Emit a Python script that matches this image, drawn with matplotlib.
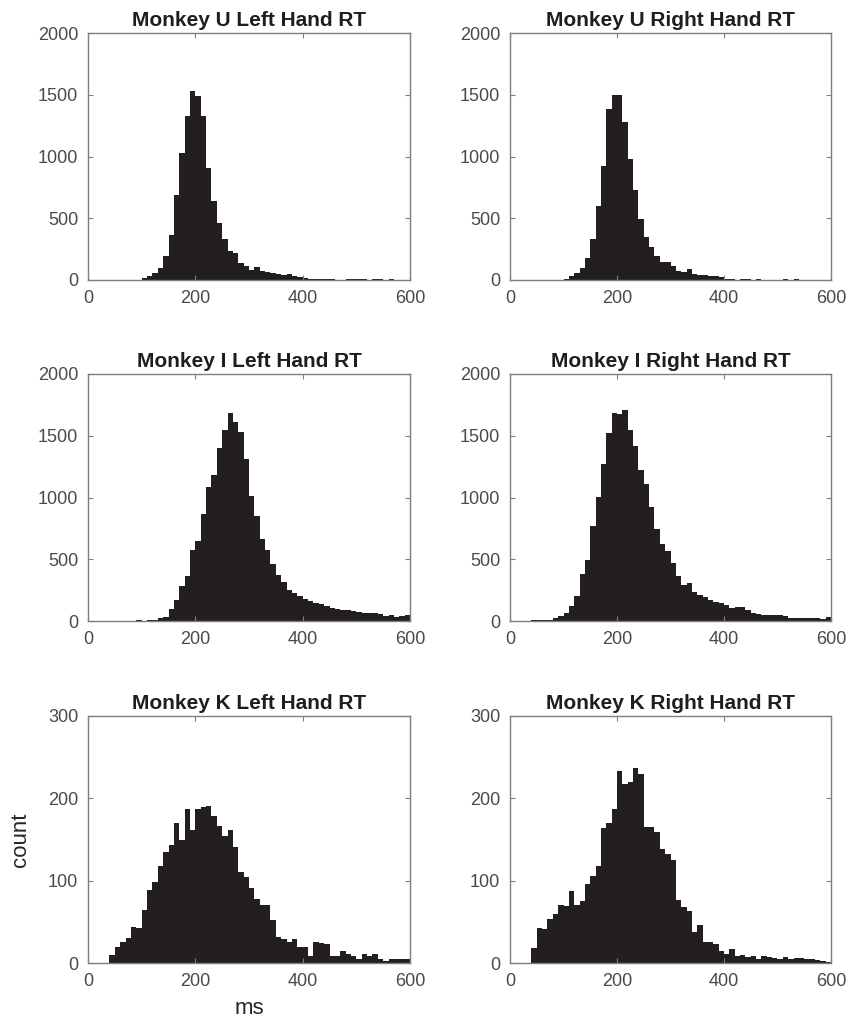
import numpy as np
import matplotlib
matplotlib.use("Agg")
import matplotlib.pyplot as plt

plt.rcParams['font.family'] = ['Liberation Sans', 'DejaVu Sans']

# 10-ms bins from 0 to 600 ms (left edges)
bin_left = list(range(0, 600, 10))

titles = ["Monkey U Left Hand RT", "Monkey U Right Hand RT",
          "Monkey I Left Hand RT", "Monkey I Right Hand RT",
          "Monkey K Left Hand RT", "Monkey K Right Hand RT"]

u_left = [0]*10 + [20, 35, 57, 97, 197, 367, 686, 1028, 1330, 1528,
                   1487, 1330, 904, 642, 459, 332, 237, 216, 140, 116,
                   83, 105, 75, 67, 54, 46, 43, 46, 35, 27,
                   15, 12, 10, 8, 6, 5, 4, 4, 5, 6,
                   6, 5, 2, 6, 6, 0, 6, 0, 0, 0]
u_right = [0]*10 + [10, 30, 54, 95, 178, 332, 602, 926, 1382, 1495,
                    1495, 1277, 980, 729, 494, 345, 270, 197, 148, 148,
                    116, 75, 67, 86, 48, 40, 38, 35, 32, 28,
                    10, 8, 3, 6, 6, 2, 5, 2, 1, 1,
                    0, 5, 3, 5, 0, 0, 0, 0, 0, 0]
i_left = [0]*9 + [8, 0, 6, 10, 22, 32, 100, 168, 287, 367, 578,
                  648, 866, 1085, 1185, 1404, 1550, 1687, 1611, 1530, 1315,
                  1015, 850, 667, 572, 465, 370, 313, 254, 227, 200,
                  178, 162, 149, 135, 119, 108, 97, 92, 87, 81,
                  70, 65, 65, 62, 54, 43, 46, 32, 38, 46]
i_right = [0]*4 + [11, 11, 11, 11, 24, 38, 65, 122, 203, 378,
                   494, 767, 1002, 1269, 1522, 1687, 1679, 1706, 1550, 1415,
                   1220, 1112, 923, 748, 621, 564, 473, 364, 294, 311,
                   235, 208, 194, 167, 154, 149, 127, 108, 113, 116,
                   87, 67, 59, 51, 46, 46, 46, 38, 27, 27,
                   27, 27, 27, 27, 19, 32]
k_left = [0]*4 + [10, 19, 25, 30, 44, 43, 64, 89, 98, 118,
                  135, 143, 170, 150, 187, 162, 187, 190, 191, 178,
                  167, 154, 162, 141, 110, 104, 91, 78, 70, 70,
                  52, 32, 29, 25, 29, 19, 19, 8, 26, 24,
                  23, 8, 8, 14, 11, 9, 5, 11, 9, 11,
                  5, 2, 5, 5, 5, 5]
k_right = [0]*4 + [18, 43, 41, 53, 60, 71, 69, 87, 71, 75,
                   96, 106, 118, 164, 170, 187, 233, 217, 220, 237,
                   229, 165, 165, 159, 138, 132, 125, 77, 68, 63,
                   38, 46, 26, 26, 23, 15, 11, 17, 9, 10,
                   7, 8, 5, 8, 7, 6, 5, 7, 5, 6,
                   6, 5, 5, 4, 3, 1]

series = [u_left, u_right, i_left, i_right, k_left, k_right]
ylims = [2000, 2000, 2000, 2000, 300, 300]
yticks_big = [0, 500, 1000, 1500, 2000]
yticks_small = [0, 100, 200, 300]
xticks = [0, 200, 400, 600]

W, H = 850, 1026
fig = plt.figure(figsize=(W/100, H/100), dpi=100)

col_left = [88/W, 510/W]
col_width = [322/W, 321/W]
row_bottom = [1 - 280/H, 1 - 621/H, 1 - 963/H]
row_height = 247/H

bar_color = '#231f20'
spine_color = '#7f7f7f'
tick_color = '#4a4a4a'

axes = []
for i, (title, counts) in enumerate(zip(titles, series)):
    r, c = divmod(i, 2)
    ax = fig.add_axes([col_left[c], row_bottom[r], col_width[c], row_height])
    ax.bar(bin_left, counts, width=10, align='edge', color=bar_color,
           linewidth=0)
    ax.set_xlim(0, 600)
    ax.set_ylim(0, ylims[i])
    ax.set_xticks(xticks)
    ax.set_yticks(yticks_big if ylims[i] == 2000 else yticks_small)
    ax.tick_params(direction='in', top=True, right=True, length=3.5,
                   width=0.8, color=spine_color, labelcolor=tick_color,
                   labelsize=13, pad=7)
    for s in ax.spines.values():
        s.set_color(spine_color)
        s.set_linewidth(1.0)
    ax.set_title(title, fontsize=15, fontweight='bold', color='#1e1e1e',
                 pad=5)
    axes.append(ax)

axes[4].set_ylabel('count', fontsize=16, color='#262626', labelpad=12)
axes[4].set_xlabel('ms', fontsize=16, color='#262626', labelpad=6)

fig.savefig('out.png', dpi=100)
